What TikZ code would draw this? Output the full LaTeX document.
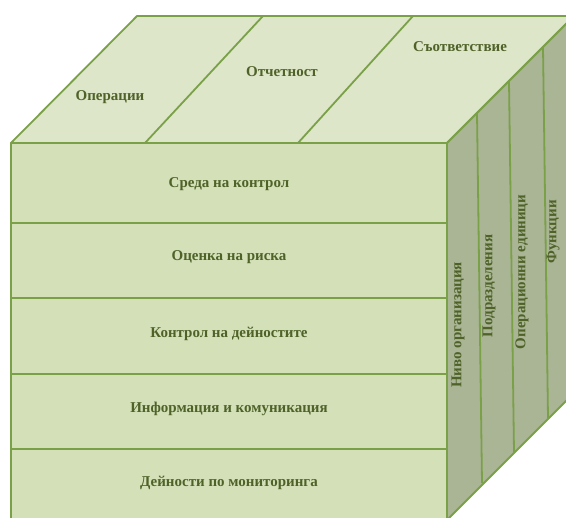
\documentclass[tikz,border=0pt]{standalone}
\usepackage{fontspec}
\setmainfont{Liberation Serif}
\definecolor{lgreen}{RGB}{211,224,184}
\definecolor{tgreen}{RGB}{221,230,201}
\definecolor{sgreen}{RGB}{169,181,148}
\definecolor{edge}{RGB}{122,160,72}
\definecolor{txt}{RGB}{79,98,40}
\usetikzlibrary{positioning}

\begin{document}
\begin{tikzpicture}[
      x=1pt, y=-1pt,
      every node/.style={text=txt, font=\bfseries\fontsize{15}{17}\selectfont},
      face/.style={draw=edge, line width=1.8pt, line join=round}]
        \useasboundingbox (0,0) rectangle (566,518);
        \clip (0,0) rectangle (566,518);

        % corners of the cube
        \coordinate (ftl) at (11,143);
        \coordinate (ftr) at (447,143);
        \coordinate (fbl) at (11,520);
        \coordinate (fbr) at (447,520);
        \coordinate (btl) at (137,16);
        \coordinate (btr) at (574,16);
        \coordinate (bbr) at (574,393);

        % faces
        \draw[face, fill=tgreen] (ftl) -- (btl) -- (btr) -- (ftr) -- cycle;
        \draw[face, fill=sgreen] (ftr) -- (btr) -- (bbr) -- (fbr) -- cycle;
        \draw[face, fill=lgreen] (ftl) rectangle (fbr);

        % top: objectives
        \draw[face] (145,143) -- (263,16);
        \draw[face] (298,143) -- (413,16);

        \node (ops) at (110,97) {Операции};
        \node (rep) at (282,72) {Отчетност};
        \node (com) at (460,47) {Съответствие};

        % front: components
        \foreach \y in {223, 298, 374, 449}
          \draw[face] (11,\y) -- (447,\y);

        \node (env) at (229,184) {Среда на контрол};
        \node (risk) at (229,257) {Оценка на риска};
        \node (act) at (229,334) {Контрол на дейностите};
        \node (info) at (229,409) {Информация и комуникация};
        \node (mon) at (229,483) {Дейности по мониторинга};

        % side: structure
        \draw[face] (477,113) -- (482,483);
        \draw[face] (509,81) -- (514,452);
        \draw[face] (543,47) -- (548,418);

        \node[rotate=90] (lvl) at (458,325) {Ниво организация};
        \node[rotate=90] (div) at (489,286) {Подразделения};
        \node[rotate=90] (unit) at (522,272) {Операционни единици};
        \node[rotate=90] (fun) at (553,232) {Функции};

      \end{tikzpicture}
\end{document}
